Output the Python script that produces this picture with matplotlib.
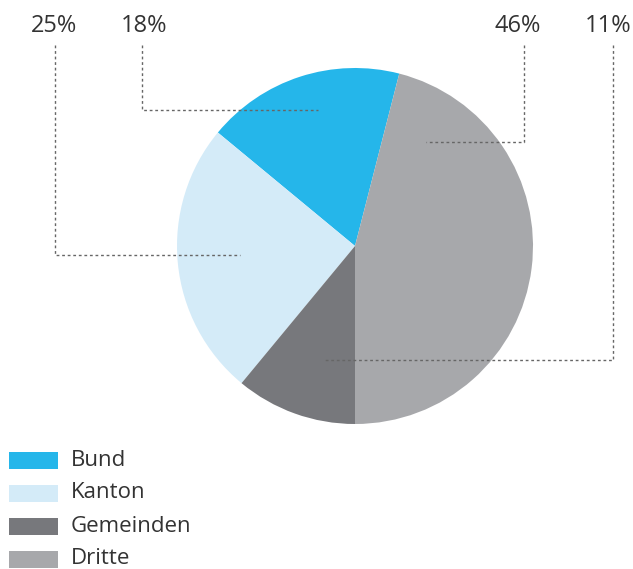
import matplotlib
matplotlib.use('Agg')
import matplotlib.pyplot as plt

labels = ['Bund', 'Kanton', 'Gemeinden', 'Dritte']
shares = [18, 25, 11, 46]
colors = ['#25b6ea', '#d4ebf8', '#77787c', '#a7a8ab']

# leader lines: line x, horizontal-line y, end x of horizontal line, text x (pixels)
leaders = {
    'Bund': (142, 110, 318, 144),
    'Kanton': (55, 255, 240, 54),
    'Gemeinden': (613, 360, 325, 608),
    'Dritte': (524, 142, 426, 518),
}

W, H = 633, 569
plt.rcParams['font.family'] = ['Open Sans', 'DejaVu Sans']
fig = plt.figure(figsize=(W / 100, H / 100), dpi=100)
ax = fig.add_axes([0, 0, 1, 1])

ax.pie(shares, colors=colors, startangle=75.6, counterclock=True,
       center=(355, H - 246), radius=178, frame=True,
       wedgeprops=dict(linewidth=0))
ax.set_xlim(0, W)
ax.set_ylim(0, H)
ax.set_aspect('equal')
ax.axis('off')

txt = '#333333'
for lab, val in zip(labels, shares):
    lx, ly, ex, tx = leaders[lab]
    ax.plot([lx, lx, ex], [H - 45, H - ly, H - ly], color='#666666',
            lw=1.0, linestyle=(0, (2, 2)))
    ax.text(tx, H - 26, f'{val}%', ha='center', va='center', fontsize=17,
            color=txt)

# legend
for i, (lab, c) in enumerate(zip(labels, colors)):
    y = H - (460 + i * 33)
    ax.add_patch(plt.Rectangle((9, y - 8.5), 49, 17, color=c, lw=0))
    ax.text(71, y, lab, ha='left', va='center', fontsize=16, color=txt)

fig.savefig('out.png', dpi=100)
